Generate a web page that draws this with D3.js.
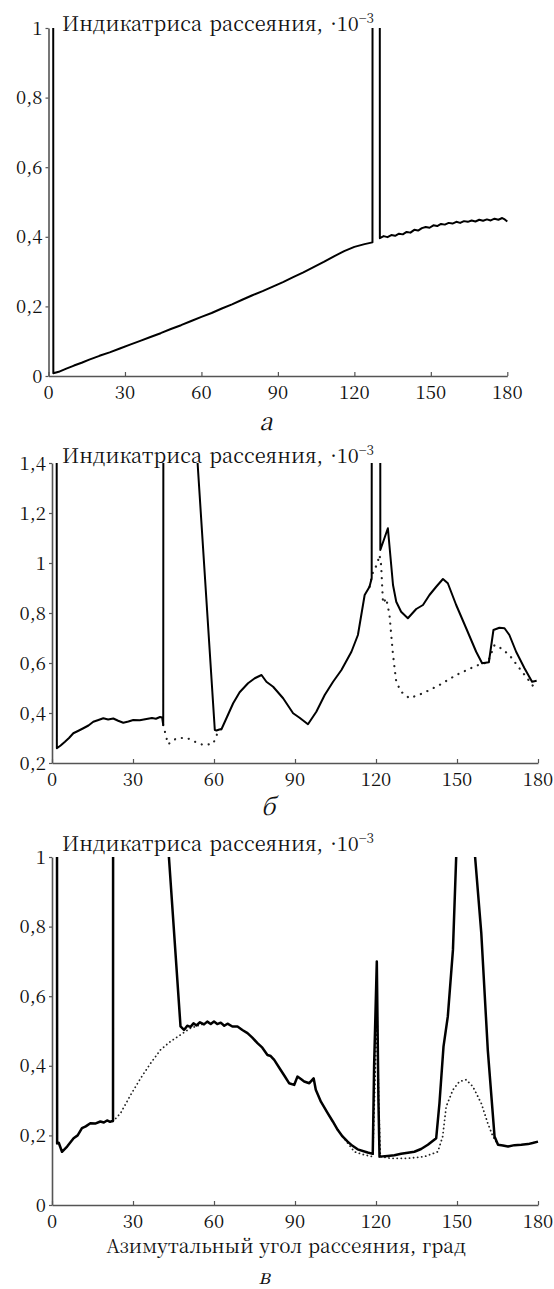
<!DOCTYPE html>
<html><head><meta charset="utf-8">
<script src="https://cdn.jsdelivr.net/npm/d3@7"></script>
<style>body{margin:0;background:#fff}</style>
</head><body>
<svg id="c" width="554" height="1289"></svg>
<script>
// ---------- data ----------
const xTicks = [0, 30, 60, 90, 120, 150, 180];
const titleMain = "Индикатриса рассеяния, ·10";
const titleExp = "−3";
const xAxisTitle = "Азимутальный угол рассеяния, град";
const panelLetters = ["а", "б", "в"];

const aYTicks = [0, 0.2, 0.4, 0.6, 0.8, 1];
const bYTicks = [0.2, 0.4, 0.6, 0.8, 1, 1.2, 1.4];
const cYTicks = [0, 0.2, 0.4, 0.6, 0.8, 1];

// panel а : [angle, value]
const aSolid = [[1.6,6],[1.9,0.008],[4,0.012],[7,0.021],[10,0.03],[13,0.038],[16,0.047],[20,0.058],[24,0.068],[28,0.079],[32,0.09],[36,0.101],[40,0.112],[44,0.123],[48,0.135],[52,0.146],[56,0.158],[60,0.17],[64,0.181],[68,0.194],[72,0.206],[76,0.219],[80,0.232],[84,0.244],[88,0.257],[92,0.27],[96,0.284],[100,0.298],[104,0.313],[108,0.328],[112,0.344],[116,0.359],[120,0.371],[124,0.379],[127.1,0.384],[127.3,6],[129.8,6],[130.0,0.396],[131.5,0.402],[133,0.399],[134.5,0.405],[136,0.403],[137.5,0.409],[139,0.407],[140.5,0.414],[142,0.412],[143.5,0.42],[145,0.418],[146.5,0.425],[148,0.428],[149.5,0.426],[151,0.433],[152.5,0.431],[154,0.437],[155.5,0.435],[157,0.44],[158.5,0.438],[160,0.443],[161.5,0.44],[163,0.445],[164.5,0.443],[166,0.447],[167.5,0.444],[169,0.449],[170.5,0.446],[172,0.45],[173.5,0.447],[175,0.452],[176.5,0.449],[178,0.454],[179,0.45],[180,0.444]];

// panel б
const bSolid = [[1.5,6],[1.8,0.259],[3.2,0.27],[4.8,0.285],[6.3,0.3],[7.9,0.319],[9.8,0.329],[11.6,0.339],[13.5,0.35],[15.3,0.365],[17.2,0.372],[19.0,0.379],[20.8,0.374],[22.7,0.378],[24.5,0.369],[26.4,0.361],[28.3,0.366],[30.1,0.372],[32.5,0.371],[35.0,0.376],[37,0.38],[38.5,0.377],[40,0.384],[40.8,0.382],[41.2,0.352],[41.4,6],[53.0,6],[53.8,1.42],[60.3,0.332],[60.9,0.33],[62.0,0.334],[62.8,0.336],[64.6,0.379],[67.1,0.439],[69.5,0.483],[72.6,0.519],[75.1,0.539],[77.6,0.552],[79.4,0.525],[81.9,0.505],[85.6,0.459],[89.3,0.399],[91.7,0.381],[94.8,0.355],[97.9,0.405],[101.0,0.472],[104.1,0.525],[107.2,0.572],[110.9,0.645],[113.3,0.712],[115.8,0.872],[117.6,0.905],[118.4,0.939],[118.6,6],[121.4,6],[121.6,1.052],[124.4,1.139],[126.3,0.912],[127.5,0.845],[129.3,0.805],[131.8,0.779],[134.9,0.816],[137.4,0.832],[139.8,0.872],[142.3,0.905],[144.8,0.936],[146.6,0.919],[149.7,0.832],[153.4,0.739],[157.1,0.645],[159.3,0.599],[161.8,0.603],[163.5,0.732],[165.7,0.741],[167.6,0.739],[169.4,0.712],[171.9,0.645],[175.0,0.579],[177.8,0.525],[179.5,0.529]];
const bDotted1 = [[41.2,0.352],[43.0,0.275],[46.1,0.299],[49.8,0.301],[52.9,0.285],[56.0,0.272],[59.7,0.277],[61.5,0.325],[62.8,0.336]];
const bDotted2 = [[117.6,0.905],[118.9,0.965],[120.3,0.992],[121.3,1.032],[121.9,0.992],[122.6,0.839],[123.8,0.859],[125.0,0.792],[126.3,0.632],[127.5,0.525],[129.3,0.485],[132.4,0.459],[137.4,0.479],[143.5,0.512],[149.7,0.552],[157.1,0.589],[161.4,0.603],[163.9,0.672],[166.3,0.659],[169.4,0.632],[173.1,0.579],[176.2,0.536],[178.1,0.509]];

// panel в
const cSolid = [[1.6,6],[1.9,0.177],[2.5,0.179],[3.7,0.153],[5.6,0.168],[8.0,0.192],[9.5,0.2],[11.1,0.221],[12.5,0.226],[14.2,0.235],[16,0.234],[17.9,0.240],[19.2,0.237],[20.4,0.243],[21.5,0.239],[22.6,0.242],[22.8,6],[42.8,6],[43.3,1.0],[47.6,0.513],[48.9,0.503],[50.1,0.515],[51.3,0.512],[52.4,0.522],[53.5,0.516],[54.8,0.525],[56.3,0.519],[57.5,0.527],[58.8,0.52],[60.0,0.527],[61.2,0.52],[62.5,0.524],[63.8,0.515],[65.0,0.521],[66.8,0.513],[68.7,0.513],[70.5,0.503],[72.4,0.494],[74.2,0.481],[76.1,0.465],[77.9,0.452],[79.8,0.431],[81.0,0.428],[82.3,0.417],[84.7,0.388],[86.2,0.37],[87.8,0.350],[89.7,0.345],[90.9,0.369],[92.2,0.362],[93.4,0.355],[95.3,0.350],[96.9,0.364],[97.7,0.331],[99.6,0.297],[102.1,0.264],[104.0,0.24],[105.8,0.216],[107.6,0.197],[109.5,0.182],[111.3,0.17],[113.2,0.160],[116.9,0.151],[118.8,0.147],[119.3,0.4],[120.3,0.70],[120.9,0.3],[121.3,0.139],[124.3,0.141],[126.8,0.143],[129.3,0.147],[131.8,0.15],[134.2,0.153],[136.7,0.161],[139.2,0.173],[142.3,0.192],[143.5,0.292],[145.0,0.455],[146.6,0.542],[148.5,0.733],[149.7,1.0],[150.5,6],[156.0,6],[156.7,1.0],[159.0,0.781],[161.4,0.446],[163.9,0.197],[165.2,0.173],[167,0.171],[168.9,0.168],[171.3,0.172],[173.8,0.173],[176.3,0.175],[178,0.178],[180.0,0.182]];
const cDotted1 = [[22.6,0.240],[25.4,0.264],[29.1,0.316],[32.8,0.364],[36.5,0.407],[40.2,0.446],[43.9,0.470],[47.6,0.489],[51.3,0.508],[55.1,0.518],[57,0.522]];
const cDotted2 = [[105.8,0.216],[109.5,0.178],[112.0,0.153],[115.7,0.144],[118.8,0.139],[119.6,0.35],[120.4,0.56],[121.0,0.3],[121.6,0.139],[125.6,0.134],[131.8,0.134],[137.9,0.139],[142.9,0.153],[144.7,0.197],[146.0,0.283],[148.5,0.331],[150.9,0.355],[153.4,0.360],[155.9,0.340],[159.0,0.292],[161.4,0.235],[163.3,0.197],[165.2,0.173]];

// ---------- drawing ----------
const FONT = '"Noto Serif CJK SC"';
const svg = d3.select("#c");
const fmt = d => String(+d.toFixed(1)).replace(".", ",");
function txt(x, y, size, s, anchor){
  return svg.append("text").attr("x", x).attr("y", y).attr("font-size", size)
    .style("font-family", FONT).attr("text-anchor", anchor || "start").attr("fill", "#111").text(s);
}

function panel(cfg, idx){
  const g = svg.append("g");
  const x = d3.scaleLinear().domain([0,180]).range([cfg.x0, cfg.x1]);
  const y = d3.scaleLinear().domain(cfg.yDom).range([cfg.yb, cfg.yt]);
  const cid = "clip"+idx;
  svg.append("clipPath").attr("id",cid).append("rect")
    .attr("x", x(0)).attr("y", y(cfg.yDom[1]))
    .attr("width", x(180)-x(0)+2).attr("height", y(cfg.yDom[0])-y(cfg.yDom[1]));

  const ya = g.append("g").attr("transform",`translate(${x(0)},0)`)
    .call(d3.axisLeft(y).tickValues(cfg.yTicks).tickFormat("").tickSizeInner(3).tickSizeOuter(0));
  const xa = g.append("g").attr("transform",`translate(0,${y(cfg.yDom[0])})`)
    .call(d3.axisBottom(x).tickValues(xTicks).tickFormat("").tickSizeInner(-4).tickSizeOuter(0));
  [ya, xa].forEach(a => {
    a.selectAll("text").remove();
    a.select(".domain").attr("stroke","#555").attr("stroke-width",1.6);
    a.selectAll(".tick line").attr("stroke","#555").attr("stroke-width",1.2);
  });
  cfg.yTicks.forEach(v => txt(x(0) - 6, y(v) + 6.5, 18.5, fmt(v), "end"));
  xTicks.forEach(v => txt(x(v), y(cfg.yDom[0]) + 23, 18.5, fmt(v), "middle"));

  const line = d3.line().x(d=>x(d[0])).y(d=>y(d[1]));
  const plot = g.append("g").attr("clip-path",`url(#${cid})`);
  cfg.dotted.forEach(s => plot.append("path").attr("d", line(s)).attr("fill","none")
    .attr("stroke","#222").attr("stroke-width",cfg.dotW).attr("stroke-dasharray",cfg.dash).attr("stroke-linecap","round"));
  plot.append("path").attr("d", line(cfg.solid)).attr("fill","none")
    .attr("stroke","#000").attr("stroke-width",cfg.lw).attr("stroke-linejoin","round");

  const t = txt(62, cfg.titleY, 20, null).attr("word-spacing", 2);
  t.append("tspan").text(titleMain);
  t.append("tspan").attr("dy",-8).attr("font-size",13.5).text(titleExp);

  if (cfg.xlabel) txt(286, cfg.xlabelY, 19, xAxisTitle, "middle").attr("word-spacing", 1);
  txt(cfg.letterX, cfg.letterY, cfg.letterSize, panelLetters[idx], "middle").attr("font-style","italic");
}

panel({x0:48.5, x1:507.3, yb:376, yt:28, yDom:[0,1], yTicks:aYTicks, solid:aSolid, dotted:[], lw:2,
       titleY:31, letterX:266, letterY:430, letterSize:24}, 0);
panel({x0:52, x1:538, yb:763, yt:463, yDom:[0.2,1.4], yTicks:bYTicks, solid:bSolid, dotted:[bDotted1,bDotted2],
       lw:2, dotW:2.2, dash:"0.1,7", titleY:463, letterX:268, letterY:815, letterSize:24}, 1);
panel({x0:52, x1:538, yb:1205, yt:857, yDom:[0,1], yTicks:cYTicks, solid:cSolid, dotted:[cDotted1,cDotted2],
       lw:2.5, dotW:1.8, dash:"0.1,4", titleY:851, xlabel:true, xlabelY:1253, letterX:264, letterY:1284, letterSize:21}, 2);
</script>
</body></html>
